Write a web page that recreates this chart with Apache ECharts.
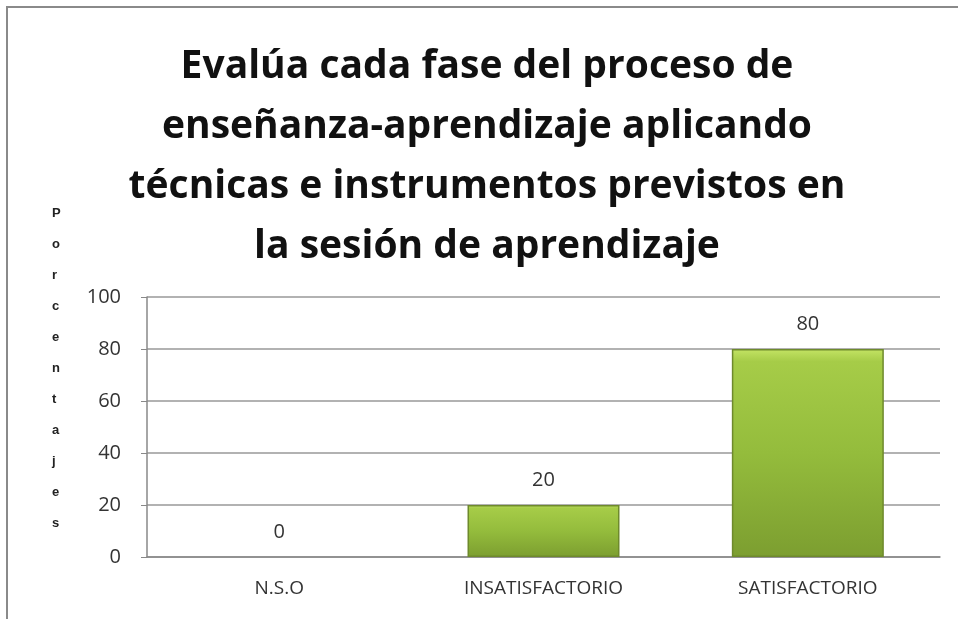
<!DOCTYPE html>
<html><head><meta charset="utf-8">
<script src="https://cdn.jsdelivr.net/npm/echarts@6/dist/echarts.min.js"></script>
<style>html,body{margin:0;padding:0;background:#fff}#c{width:958px;height:619px}</style>
</head><body><div id="c"></div>
<script>
const categories = ['N.S.O', 'INSATISFACTORIO', 'SATISFACTORIO'];
const values = [0, 20, 80];
const yTicks = [0, 20, 40, 60, 80, 100];
const titleText = 'Evalúa cada fase del proceso de\nenseñanza-aprendizaje aplicando\ntécnicas e instrumentos previstos en\nla sesión de aprendizaje';
const yName = 'Porcentajes';

const chart = echarts.init(document.getElementById('c'));
chart.setOption({
  backgroundColor: '#fff',
  animation: false,
  title: {
    text: titleText, left: 482, top: 32, textAlign: 'center',
    textStyle: { fontFamily: 'Open Sans', fontWeight: 'bold', fontSize: 39, lineHeight: 60, color: '#111' }
  },
  graphic: [
    { type: 'rect', shape: { x: 7, y: 7, width: 960, height: 620 }, style: { fill: 'none', stroke: '#8a8a8a', lineWidth: 2 } },
    { type: 'text', left: 52, top: 198, style: { text: yName.split('').join('\n'), fontFamily: 'Liberation Sans', fontWeight: 'bold', fontSize: 13, lineHeight: 31, fill: '#222', align: 'center' } }
  ],
  grid: { left: 147, right: 18, top: 297, bottom: 62 },
  xAxis: {
    type: 'category', data: categories,
    axisLine: { lineStyle: { color: '#888', width: 1.5 } },
    axisTick: { show: false },
    axisLabel: { fontFamily: 'Open Sans', fontSize: 19, color: '#333', margin: 22 }
  },
  yAxis: {
    type: 'value', min: 0, max: 100, interval: 20,
    axisLine: { show: true, lineStyle: { color: '#888', width: 1.5 } },
    axisTick: { show: true, length: 6, lineStyle: { color: '#888' } },
    splitLine: { lineStyle: { color: '#999', width: 1.5 } },
    axisLabel: { fontFamily: 'Open Sans', fontSize: 20, color: '#333', margin: 26,
      formatter: v => yTicks.includes(v) ? String(v) : '' }
  },
  series: [{
    type: 'bar',
    data: values.map(v => ({ value: v, itemStyle: { borderWidth: v === 0 ? 0 : 1.5 } })),
    barWidth: '57.5%',
    itemStyle: {
      color: new echarts.graphic.LinearGradient(0, 0, 0, 1, [
        { offset: 0, color: '#c4e464' },
        { offset: 0.06, color: '#a6cc48' },
        { offset: 0.5, color: '#94bc3c' },
        { offset: 1, color: '#7c9e30' }
      ]),
      borderColor: '#6e8a2c'
    },
    label: { show: true, position: 'top', distance: 15, fontFamily: 'Open Sans', fontSize: 20, color: '#333' }
  }]
});
</script></body></html>
